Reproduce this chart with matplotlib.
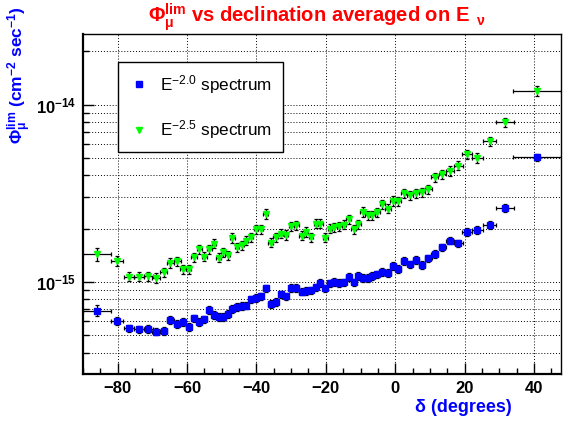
import numpy as np
import matplotlib
matplotlib.use("Agg")
import matplotlib.pyplot as plt
from matplotlib.lines import Line2D
from matplotlib.ticker import MultipleLocator, LogLocator, NullFormatter

plt.rcParams.update({"font.family": "Liberation Sans", "font.size": 12,
                     "mathtext.fontset": "custom",
                     "mathtext.rm": "Liberation Sans",
                     "mathtext.it": "Liberation Sans",
                     "mathtext.bf": "Liberation Sans:bold"})

# declination bin centres and half-widths (degrees)
DEC = [-86.05, -80.2, -76.74, -73.86, -71.18, -68.88, -66.74, -64.84, -62.82, -61.09,
       -59.54, -57.93, -56.48, -55.04, -53.60, -52.25, -50.89, -49.51, -48.30, -46.97,
       -45.62, -44.27, -43.03, -41.59, -40.14, -38.79, -37.35, -35.91, -34.47, -32.94,
       -31.50, -29.91, -28.53, -26.97, -25.73, -24.29, -22.85, -21.61, -20.11, -18.82,
       -17.58, -16.14, -14.78, -13.43, -11.99, -10.66, -9.31, -7.95, -6.57, -5.19,
       -3.69, -2.10, -0.66, 0.86, 2.45, 4.15, 5.88, 7.69, 9.57, 11.44,
       13.60, 15.76, 18.16, 20.75, 23.69, 27.23, 31.70, 40.89]
DEC_ERR = [4.0, 1.8, 1.5, 1.4, 1.25, 1.1, 1.0, 1.0, 0.95, 0.85,
           0.8, 0.8, 0.72, 0.72, 0.72, 0.7, 0.7, 0.7, 0.7, 0.7,
           0.7, 0.7, 0.7, 0.7, 0.7, 0.7, 0.7, 0.7, 0.7, 0.7,
           0.7, 0.7, 0.7, 0.7, 0.7, 0.7, 0.7, 0.7, 0.7, 0.7,
           0.7, 0.7, 0.7, 0.7, 0.7, 0.7, 0.7, 0.7, 0.7, 0.7,
           0.75, 0.75, 0.75, 0.78, 0.8, 0.85, 0.88, 0.92, 0.95, 1.0,
           1.1, 1.2, 1.3, 1.4, 1.5, 1.9, 2.6, 6.8]

# flux upper limits, units of 1e-15 cm^-2 s^-1
PHI_E20 = [0.689, 0.603, 0.547, 0.541, 0.543, 0.526, 0.530, 0.611, 0.580, 0.595,
           0.556, 0.624, 0.597, 0.616, 0.696, 0.652, 0.638, 0.638, 0.658, 0.705,
           0.723, 0.730, 0.737, 0.799, 0.816, 0.831, 0.922, 0.752, 0.772, 0.852,
           0.829, 0.928, 0.928, 0.884, 0.892, 0.896, 0.934, 0.984, 0.922, 0.981,
           1.004, 0.987, 0.996, 1.067, 0.996, 1.085, 1.057, 1.057, 1.085, 1.105,
           1.143, 1.128, 1.235, 1.188, 1.313, 1.258, 1.330, 1.247, 1.360, 1.438,
           1.569, 1.713, 1.652, 1.920, 1.963, 2.095, 2.605, 5.048]
PHI_E25 = [1.434, 1.308, 1.071, 1.071, 1.081, 1.057, 1.134, 1.284, 1.308, 1.179,
           1.179, 1.378, 1.529, 1.392, 1.529, 1.644, 1.374, 1.470, 1.414, 1.763,
           1.575, 1.612, 1.713, 1.793, 1.984, 1.984, 2.416, 1.669, 1.786, 1.876,
           1.845, 2.068, 2.095, 1.828, 1.920, 1.793, 2.136, 2.136, 1.781, 1.997,
           2.033, 2.060, 2.103, 2.259, 1.989, 2.116, 2.486, 2.376, 2.379, 2.480,
           2.751, 2.595, 2.868, 2.853, 3.160, 3.091, 3.164, 3.201, 3.342, 3.904,
           4.044, 4.238, 4.532, 5.262, 5.009, 6.196, 7.930, 11.96]
# relative uncertainties on the limits
REL_E20 = [0.07, 0.055, 0.05, 0.05, 0.05, 0.05, 0.05, 0.05, 0.05, 0.05,
           0.05, 0.05, 0.05, 0.05, 0.05, 0.05, 0.05, 0.05, 0.05, 0.05,
           0.05, 0.05, 0.05, 0.05, 0.05, 0.05, 0.05, 0.05, 0.05, 0.05,
           0.05, 0.05, 0.05, 0.05, 0.05, 0.05, 0.05, 0.05, 0.05, 0.05,
           0.05, 0.05, 0.05, 0.05, 0.05, 0.05, 0.05, 0.05, 0.05, 0.05,
           0.05, 0.05, 0.05, 0.05, 0.05, 0.05, 0.05, 0.05, 0.05, 0.05,
           0.05, 0.05, 0.05, 0.05, 0.05, 0.05, 0.05, 0.05]
REL_E25 = [0.08, 0.065, 0.06, 0.06, 0.06, 0.06, 0.06, 0.06, 0.06, 0.06,
           0.06, 0.06, 0.06, 0.06, 0.06, 0.06, 0.06, 0.06, 0.06, 0.065,
           0.06, 0.06, 0.06, 0.06, 0.06, 0.06, 0.065, 0.06, 0.06, 0.06,
           0.06, 0.06, 0.06, 0.06, 0.06, 0.06, 0.06, 0.06, 0.06, 0.06,
           0.06, 0.06, 0.06, 0.06, 0.06, 0.06, 0.06, 0.06, 0.06, 0.06,
           0.06, 0.06, 0.06, 0.06, 0.06, 0.06, 0.06, 0.06, 0.06, 0.06,
           0.06, 0.06, 0.06, 0.06, 0.06, 0.06, 0.06, 0.06]

LABELS = ["E$^{\\mathregular{-2.0}}$ spectrum", "E$^{\\mathregular{-2.5}}$ spectrum"]
BLUE, GREEN = "#0000ff", "#00ff00"

dec = np.array(DEC)
fig = plt.figure(figsize=(5.68, 4.22), dpi=100)
ax = fig.add_axes([83 / 568, 48 / 422, 477.7 / 568, 340 / 422])

for phi, rel, col, mk, ms in [(PHI_E25, REL_E25, GREEN, "v", 4.4),
                              (PHI_E20, REL_E20, BLUE, "s", 3.8)]:
    y = np.array(phi) * 1e-15
    ax.errorbar(dec, y, xerr=DEC_ERR, yerr=y * np.array(rel), fmt="none",
                ecolor="k", elinewidth=0.9, capsize=1.6, capthick=0.9, zorder=2)
    ax.plot(dec, y, ls="none", marker=mk, ms=ms, color=col, mec=col, zorder=3)

ax.set_yscale("log")
ax.set_xlim(-90, 47.7)
ax.set_ylim(3.03e-16, 2.5e-14)

ax.xaxis.set_major_locator(MultipleLocator(20))
ax.xaxis.set_minor_locator(MultipleLocator(5))
ax.set_yticks([1e-15, 1e-14])
ax.set_yticklabels([r"$\mathregular{10^{-15}}$", r"$\mathregular{10^{-14}}$"])
ax.yaxis.set_minor_locator(LogLocator(base=10, subs=np.arange(2, 10)))
ax.yaxis.set_minor_formatter(NullFormatter())
for lab in ax.get_xticklabels() + ax.get_yticklabels():
    lab.set_fontweight("bold")
    lab.set_fontsize(12)
ax.tick_params(axis="x", which="major", direction="in", length=8, width=1, pad=5)
ax.tick_params(axis="x", which="minor", direction="in", length=4, width=1)
ax.tick_params(axis="y", which="major", direction="in", length=8, width=1, pad=5)
ax.tick_params(axis="y", which="minor", direction="in", length=4, width=1)

grid = dict(color="k", lw=0.7, ls=(0, (1, 2)))
ax.grid(True, which="major", axis="x", **grid)
ax.grid(True, which="both", axis="y", **grid)
ax.set_axisbelow(True)
for s in ax.spines.values():
    s.set_linewidth(1)
ax.spines["left"].set_linewidth(1.6)
ax.spines["bottom"].set_linewidth(1.6)

handles = [Line2D([], [], ls="none", marker="s", ms=3.8, color=BLUE),
           Line2D([], [], ls="none", marker="v", ms=4.4, color=GREEN)]
leg = ax.legend(handles, LABELS, loc="upper left", bbox_to_anchor=(0.0733, 0.9176),
                borderaxespad=0, fancybox=False, edgecolor="k", framealpha=1,
                fontsize=12.3, borderpad=0.65, handlelength=1.2, handletextpad=0.6,
                labelspacing=1.3)
leg.get_frame().set_linewidth(1)
leg.set_zorder(5)

fig.text(317 / 568, 1 - 17 / 422,
         r"$\mathregular{Φ_{μ}^{lim}}$ vs declination averaged on $\mathregular{E_{\ \ ν}}$",
         color="red", fontweight="bold", fontsize=14.5, ha="center", va="center")
fig.text(20 / 568, 1 - 75 / 422,
         r"$\mathregular{Φ_{μ}^{lim}}$ (cm$\mathregular{^{-2}}$ sec$\mathregular{^{-1}}$)",
         color="blue", fontweight="bold", fontsize=12.5, rotation=90,
         ha="center", va="center")
fig.text(512 / 568, 1 - 407 / 422, r"δ (degrees)", color="blue",
         fontweight="bold", fontsize=13, ha="right", va="center")

fig.savefig("out.png", dpi=100)
